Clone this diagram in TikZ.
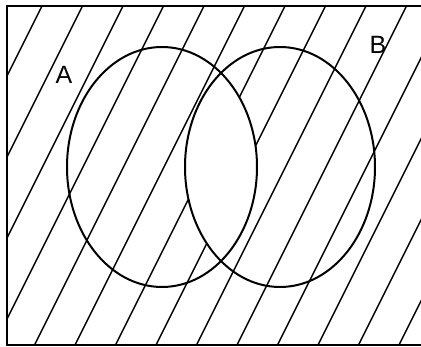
\documentclass[tikz,border=0pt]{standalone}
\usepackage{fontspec}
\newfontfamily\labelfont{Liberation Sans}
\usepackage{tikz}

\begin{document}
\begin{tikzpicture}[x=1pt,y=-1pt]
\tikzset{
 frame/.style={draw,line width=1.8pt},
 hatch/.style={draw,line width=1.5pt},
 setline/.style={draw,line width=2pt},
 setlabel/.style={font=\labelfont\fontsize{25}{30}\selectfont,inner sep=0pt}
}
\useasboundingbox (0,0) rectangle (421,347);
\clip (0,0) rectangle (421,347);
\coordinate (ca) at (162,167);
\coordinate (cb) at (280,167);
\begin{scope}
\clip (7,6) rectangle (430,345);
\foreach \k in {0,...,13}
 \draw[hatch] ({47+40.5*\k},-4) -- ++(-200,400);
\end{scope}
\begin{scope}
\clip (ca) ellipse [x radius=95pt,y radius=120pt];
\fill[white] (cb) ellipse [x radius=95pt,y radius=120pt];
\end{scope}
\draw[setline] (ca) ellipse [x radius=95pt,y radius=120pt];
\draw[setline] (cb) ellipse [x radius=95pt,y radius=120pt];
\draw[frame] (430,6) -- (7,6) -- (7,345) -- (430,345);
\node[setlabel] (labA) at (64,75) {A};
\node[setlabel] (labB) at (378,45) {B};
\end{tikzpicture}
\end{document}
